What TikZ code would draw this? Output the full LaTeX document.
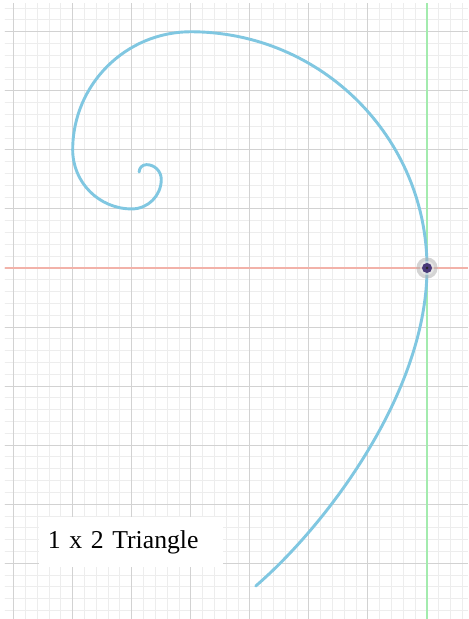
\documentclass[tikz,border=0pt]{standalone}
\usepackage{fontspec}
\setmainfont{Liberation Serif}
\usetikzlibrary{calc}
\definecolor{spiral}{HTML}{80C7E1}
\definecolor{xaxis}{HTML}{F2B2A9}
\definecolor{yaxis}{HTML}{A3EBAE}
\definecolor{majorgrid}{HTML}{D2D2D2}
\definecolor{minorgrid}{HTML}{EDEDED}
\definecolor{pointdot}{HTML}{4A3A78}
\tikzset{
  minorline/.style={draw=minorgrid, line width=0.45pt},
  majorline/.style={draw=majorgrid, line width=0.5pt},
  axisline/.style={draw=#1, line width=0.6pt},
  spiralline/.style={draw=spiral, line width=1.4pt, line cap=round},
  halo/.style={circle, inner sep=0pt, minimum size=#1},
  caption/.style={
    rectangle, fill=white, inner xsep=0.152cm, inner ysep=0pt,
    minimum width=3.116cm, minimum height=0.846cm,
    text width=2.812cm, align=left, font=\fontsize{12.4}{15}\selectfont
  }
}

\begin{document}
\begin{tikzpicture}

  \useasboundingbox (-7.231,-5.944) rectangle (0.694,4.538);
  \fill[white] (-7.231,-5.944) rectangle (0.694,4.538);

  % Grid
  \begin{scope}
    \clip (-7.147,-5.944) rectangle (0.694,4.471);
    \draw[minorline] (-7.4,-6.2) grid[step=0.2] (1,4.6);
    \draw[majorline] (-7.4,-6.2) grid[step=1] (1,4.6);
    \draw[axisline=xaxis] (-7.4,0) -- (1,0);
    \draw[axisline=yaxis] (0,-6.2) -- (0,4.6);
  \end{scope}

  % Spiral
  \coordinate (o) at (0,0);
  \coordinate (tail) at (-2.9,-5.385);
  \draw[spiralline] (tail) .. controls (-1.7,-4.35) and (0,-2.1) .. (o)
    arc[start angle=0, end angle=90, radius=4]
    arc[start angle=90, end angle=180, radius=2]
    arc[start angle=180, end angle=270, radius=1]
    arc[start angle=270, end angle=360, radius=0.5]
    arc[start angle=0, end angle=90, radius=0.25]
    arc[start angle=90, end angle=180, radius=0.125];

  % Point
  \node[halo=0.36cm, fill=gray!60, opacity=0.55] (pt) at (o) {};
  \node[halo=0.24cm, fill=white, opacity=0.4] (ptring) at (o) {};
  \node[halo=0.17cm, fill=pointdot] (ptdot) at (o) {};
  \node[halo=0.05cm, fill=black!85] (ptcore) at (o) {};

  % Label
  \node[caption] (label) at (-5.013,-4.64) {1 x 2 Triangle};

\end{tikzpicture}
\end{document}
